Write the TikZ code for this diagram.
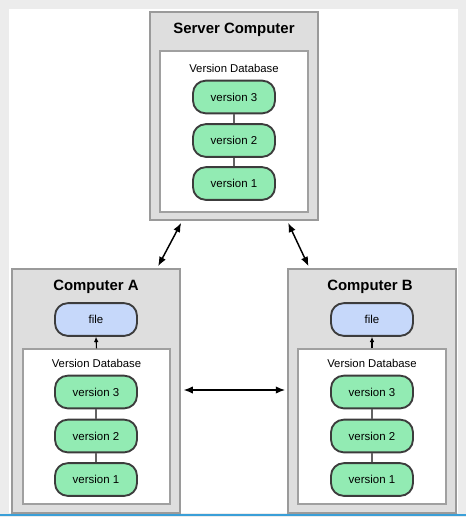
\documentclass[tikz,border=0pt]{standalone}
\usepackage{fontspec}
\setmainfont{Liberation Sans}
\usetikzlibrary{arrows.meta}
\definecolor{framegray}{HTML}{ECECEC}
\definecolor{outerfill}{HTML}{DEDEDE}
\definecolor{outerline}{HTML}{9A9A9A}
\definecolor{innerline}{HTML}{A0A0A0}
\definecolor{pillgreen}{HTML}{92EBB3}
\definecolor{pillblue}{HTML}{C6D8FA}
\definecolor{pillline}{HTML}{3C3C3C}
\definecolor{bluebar}{HTML}{3A9FD8}
\tikzset{
  outerbox/.style={draw=outerline, line width=1.2pt, fill=outerfill, inner sep=0pt},
  innerbox/.style={draw=innerline, line width=0.8pt, fill=white, inner sep=0pt},
  pill/.style={draw=pillline, line width=1.4pt, fill=pillgreen, rounded corners=9.5pt,
    minimum width=61.5pt, minimum height=24.5pt, inner sep=0pt, font=\fontsize{8.6}{10}\selectfont},
  filepill/.style={pill, fill=pillblue},
  title/.style={font=\bfseries\fontsize{11.2}{13}\selectfont, inner sep=0pt},
  dbtitle/.style={font=\fontsize{8.5}{10}\selectfont, inner sep=0pt},
  link/.style={draw=pillline!80, line width=0.8pt},
  dbl/.style={line width=1.1pt, {Latex[length=7pt,width=5.5pt]}-{Latex[length=7pt,width=5.5pt]}},
  up/.style={line width=0.8pt, -{Latex[length=4pt,width=3.5pt]}}
}
\begin{document}
\begin{tikzpicture}[x=0.75pt,y=-0.75pt]
\useasboundingbox (0,0) rectangle (466,517);
\fill[framegray] (0,0) rectangle (466,517);
\fill[white] (9,9) rectangle (458,513);
\fill[bluebar] (0,513.8) rectangle (466,515.6);

% Server
\node[outerbox, minimum width=126pt, minimum height=156pt] (server) at (234,116) {};
\node[innerbox, minimum width=111pt, minimum height=120.75pt] (sdb) at (234,131.5) {};
\node[title] (stitle) at (234,30) {Server Computer};
\node[dbtitle] (sdbt) at (234,68) {Version Database};
\node[pill] (s3) at (234,97) {version 3};
\node[pill] (s2) at (234,140.5) {version 2};
\node[pill] (s1) at (234,183.5) {version 1};
\draw[link] (s3) -- (s2);
\draw[link] (s2) -- (s1);

% Computer A
\node[outerbox, minimum width=126pt, minimum height=183pt] (A) at (96,391) {};
\node[innerbox, minimum width=110.25pt, minimum height=116.25pt] (adb) at (96.5,426.5) {};
\node[title] (atitle) at (96,287) {Computer A};
\node[filepill] (afile) at (96,319.5) {file};
\node[dbtitle] (adbt) at (96.5,363) {Version Database};
\node[pill] (a3) at (96,392) {version 3};
\node[pill] (a2) at (96,436) {version 2};
\node[pill] (a1) at (96,479.5) {version 1};
\draw[link] (a3) -- (a2);
\draw[link] (a2) -- (a1);
\draw[up] (adb.north) -- (afile.south);

% Computer B
\node[outerbox, minimum width=126pt, minimum height=183pt] (B) at (372,391) {};
\node[innerbox, minimum width=111pt, minimum height=116.25pt] (bdb) at (372,426.5) {};
\node[title] (btitle) at (370,287) {Computer B};
\node[filepill] (bfile) at (372,319.5) {file};
\node[dbtitle] (bdbt) at (372,363) {Version Database};
\node[pill] (b3) at (372,392) {version 3};
\node[pill] (b2) at (372,436) {version 2};
\node[pill] (b1) at (372,479.5) {version 1};
\draw[link] (b3) -- (b2);
\draw[link] (b2) -- (b1);
\draw[up] (bdb.north) -- (bfile.south);

% Arrows
\draw[dbl] ([xshift=24pt,yshift=-1.5pt]server.south west) -- ([xshift=-17pt,yshift=1.5pt]A.north east);
\draw[dbl] ([xshift=-23pt,yshift=-1.5pt]server.south east) -- ([xshift=16pt,yshift=1.5pt]B.north west);
\draw[dbl] ([xshift=2pt,yshift=0.75pt]A.east) -- ([xshift=-1.5pt,yshift=0.75pt]B.west);
\end{tikzpicture}
\end{document}
